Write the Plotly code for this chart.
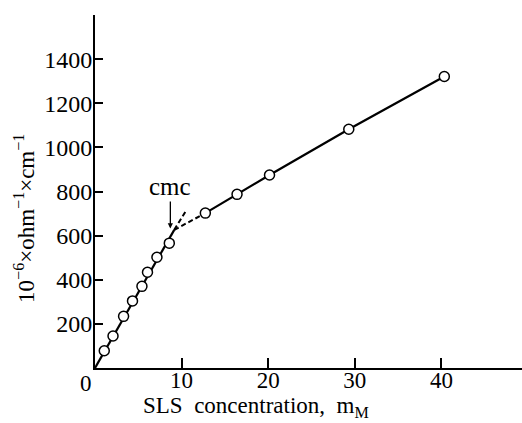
import plotly.graph_objects as go

# Measured data points (SLS concentration in mM, conductivity 10^-6 ohm^-1 cm^-1)
conc = [1.07, 2.08, 3.3, 4.33, 5.42, 6.06, 7.15, 8.58, 12.74, 16.4, 20.15, 29.3, 40.33]
kappa = [78, 145, 234, 304, 370, 434, 502, 566, 702, 787, 875, 1082, 1321]

# Fitted lines
below_x = [0, 9.15]
below_y = [0, 626]
below_ext_x = [9.15, 10.5]
below_ext_y = [626, 712]
above_ext_x = [9.15, 12.74]
above_ext_y = [626, 702]
above_x = conc[8:]
above_y = kappa[8:]

cmc_x = 8.7
cmc_y = 632

x_ticks = [0, 10, 20, 30, 40]
x_labels = ["0", "10", "20", "30", "40"]
y_ticks = [200, 400, 600, 800, 1000, 1200, 1400]

FONT = "Liberation Serif"
fig = go.Figure()
line = dict(color="black", width=2.2)
dline = dict(color="black", width=2, dash="5px,3px")
fig.add_trace(go.Scatter(x=below_x, y=below_y, mode="lines", line=line, showlegend=False))
fig.add_trace(go.Scatter(x=below_ext_x, y=below_ext_y, mode="lines", line=dline, showlegend=False))
fig.add_trace(go.Scatter(x=above_ext_x, y=above_ext_y, mode="lines", line=dline, showlegend=False))
fig.add_trace(go.Scatter(x=above_x, y=above_y, mode="lines", line=line, showlegend=False))
fig.add_trace(go.Scatter(x=conc, y=kappa, mode="markers",
                         marker=dict(symbol="circle", size=10, color="white",
                                     line=dict(color="black", width=1.5)),
                         showlegend=False))

fig.add_annotation(x=cmc_x, y=cmc_y, ax=0, ay=-42, text="cmc", showarrow=True,
                   arrowhead=2, arrowsize=0.8, arrowwidth=1.3, arrowcolor="black",
                   font=dict(family=FONT, size=25, color="black"))

# origin label sits left of the corner, as in the reference
fig.add_annotation(xref="paper", yref="paper", x=-0.021, y=-0.043,
                   xanchor="center", yanchor="middle", text=x_labels[0],
                   showarrow=False, font=dict(family=FONT, size=23, color="black"))

fig.add_annotation(xref="paper", yref="paper", x=-0.164, y=0.425,
                   xanchor="center", yanchor="middle",
                   text="10<sup>−6</sup>×ohm<sup>−1</sup>×cm<sup>−1</sup>",
                   textangle=-90, showarrow=False,
                   font=dict(family=FONT, size=23, color="black"))
fig.add_annotation(xref="paper", yref="paper", x=0.377, y=-0.11,
                   xanchor="center", yanchor="middle",
                   text="SLS  concentration,  m<sub>M</sub>", showarrow=False,
                   font=dict(family=FONT, size=23, color="black"))

fig.update_xaxes(range=[0, 49.3], tickvals=x_ticks[1:], ticktext=x_labels[1:],
                 ticks="inside", ticklen=10,
                 tickwidth=1.5, tickcolor="black", showline=True, linecolor="black",
                 linewidth=2, showgrid=False, zeroline=False, ticklabelstandoff=-10,
                 tickfont=dict(family=FONT, size=23, color="black"))
fig.update_yaxes(range=[0, 1600], tickvals=y_ticks, ticks="inside", ticklen=8,
                 tickwidth=1.5, tickcolor="black", showline=True, linecolor="black",
                 linewidth=2, showgrid=False, zeroline=False, ticklabelstandoff=-4,
                 tickfont=dict(family=FONT, size=24, color="black"))

fig.update_layout(width=522, height=423, margin=dict(l=95, r=0, t=15, b=55),
                  paper_bgcolor="white", plot_bgcolor="white")
fig.write_html("out.html")
